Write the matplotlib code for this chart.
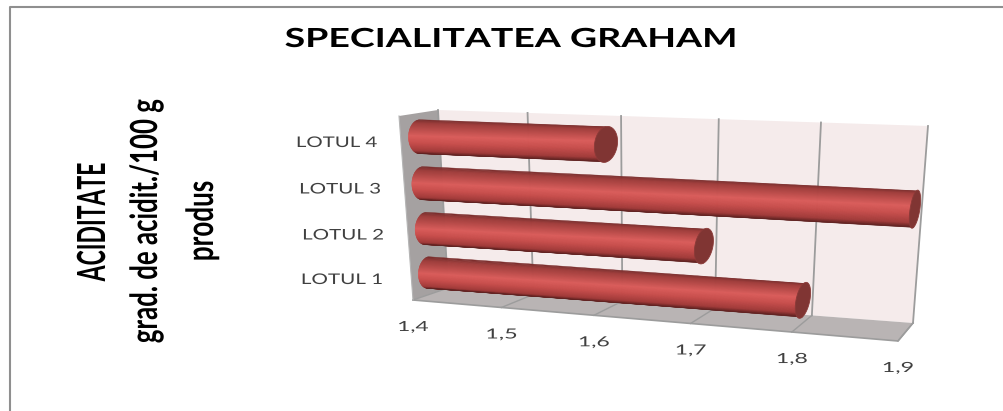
import numpy as np
import matplotlib
matplotlib.use("Agg")
import matplotlib.pyplot as plt
from matplotlib.colors import LinearSegmentedColormap
from matplotlib.font_manager import FontProperties
from matplotlib.patheffects import AbstractPathEffect
from matplotlib.textpath import TextPath
from matplotlib.transforms import Affine2D

# data
categories = ["LOTUL 1", "LOTUL 2", "LOTUL 3", "LOTUL 4"]
values = [1.8, 1.7, 1.9, 1.6]
value_ticks = [1.4, 1.5, 1.6, 1.7, 1.8, 1.9]
tick_labels = ["1,4", "1,5", "1,6", "1,7", "1,8", "1,9"]
title = "SPECIALITATEA GRAHAM"
ylabel_lines = ["ACIDITATE", "grad. de acidit./100 g", "produs"]

W, H = 1004, 411
fig = plt.figure(figsize=(W / 100, H / 100), dpi=100, facecolor="white")
ax = fig.add_axes([0, 0, 1, 1])
ax.set_xlim(0, W)
ax.set_ylim(H, 0)
ax.axis("off")

VMIN, VMAX = 1.4, 1.9
CMAX = 4.0
# chart box calibration (value, category) unit square corners: BL, BR, TR, TL
BACK = np.array([[448, 288], [913, 323], [928, 126], [438, 110]], float)
FRONT = np.array([[413, 300], [898, 341], [914, 136], [399, 116]], float)


def homography(dst):
    src = [(0, 0), (1, 0), (1, 1), (0, 1)]
    A, b = [], []
    for (x, y), (u, v) in zip(src, dst):
        A.append([x, y, 1, 0, 0, 0, -u * x, -u * y])
        A.append([0, 0, 0, x, y, 1, -v * x, -v * y])
        b += [u, v]
    h = np.linalg.solve(np.array(A, float), np.array(b, float))
    return np.append(h, 1).reshape(3, 3)


def _apply(M, x, y):
    w = M[2, 0] * x + M[2, 1] * y + M[2, 2]
    return (M[0, 0] * x + M[0, 1] * y + M[0, 2]) / w, (M[1, 0] * x + M[1, 1] * y + M[1, 2]) / w


HB, HF = homography(BACK), homography(FRONT)


def project(v, c, d=0.0):
    """value, category position, depth (0 back, 1 front) -> canvas pixels"""
    v, c, d = np.broadcast_arrays(np.asarray(v, float), np.asarray(c, float), np.asarray(d, float))
    x = (v - VMIN) / (VMAX - VMIN)
    y = c / CMAX
    pb = _apply(HB, x, y)
    pf = _apply(HF, x, y)
    return pb[0] + (pf[0] - pb[0]) * d, pb[1] + (pf[1] - pb[1]) * d


def poly(vs, cs, ds, **kw):
    x, y = project(vs, cs, ds)
    ax.fill(x, y, **kw)


GRID = "#9c9c9c"
# walls
poly([VMIN, VMAX, VMAX, VMIN], [0, 0, CMAX, CMAX], [0, 0, 0, 0], fc="#f5ebeb", ec="none", zorder=1)
poly([VMIN, VMIN, VMIN, VMIN], [0, CMAX, CMAX, 0], [0, 0, 1, 1], fc="#a5a1a1", ec="none", zorder=1)
poly([VMIN, VMAX, VMAX, VMIN], [0, 0, 0, 0], [0, 0, 1, 1], fc="#b9b4b4", ec="none", zorder=1)
for t in value_ticks:
    x, y = project([t, t], [0, CMAX], [0, 0])
    ax.plot(x, y, color=GRID, lw=1.3, zorder=2)
    x, y = project([t, t], [0, 0], [0, 1])
    ax.plot(x, y, color=GRID, lw=1.0, zorder=2)
x, y = project([VMIN, VMAX, VMAX], [0, 0, 0], [1, 1, 0])
ax.plot(x, y, color=GRID, lw=1.2, zorder=2)
x, y = project([VMIN, VMIN], [CMAX, 0], [1, 1])
ax.plot(x, y, color="#b5b5b5", lw=0.8, zorder=2)

# cylinders
cmap = LinearSegmentedColormap.from_list("tube", [
    (0.0, "#7a2d2c"), (0.08, "#a03d3b"), (0.42, "#da5d5b"), (0.62, "#c94f4d"),
    (0.88, "#a23b3a"), (1.0, "#5f2221")])
R_C, R_D, R_CAP = 0.36, 0.30, 0.38
ts = np.linspace(1, -1, 81)
theta = np.linspace(0, 2 * np.pi, 121)
for i, val in enumerate(values):
    c0 = i + 0.5
    z = 5 + (len(values) - i)
    cs = c0 + R_C * ts
    bulge = 0.5 + R_D * np.sqrt(np.clip(1 - ts ** 2, 0, 1))
    lx, ly = project(VMIN, cs, bulge)
    rx, ry = project(val, cs, 0.5)
    for k in range(len(ts) - 1):
        col = cmap((k + 0.5) / (len(ts) - 1))
        ax.fill([lx[k], rx[k], rx[k + 1], lx[k + 1]], [ly[k], ry[k], ry[k + 1], ly[k + 1]],
                fc=col, ec=col, lw=0.3, zorder=z)
    xe, ye = project(np.full_like(theta, val), c0 + R_C * np.cos(theta), 0.5 + R_CAP * np.sin(theta))
    ax.fill(xe, ye, fc="#803533", ec="#8a3a38", lw=0.6, zorder=z + 0.5)

# frame
FR = "#8f8f8f"
ax.plot([10, 10, W], [H, 7.5, 7.5], color=FR, lw=1.5, zorder=0)


class Stretch(AbstractPathEffect):
    """Scales glyph outlines about an anchor (the reference's text is distorted)."""

    def __init__(self, anchor, sx=1.0, sy=1.0):
        super().__init__()
        self.anchor, self.sx, self.sy = anchor, sx, sy

    def draw_path(self, renderer, gc, tpath, affine, rgbFace=None):
        ax_, ay_ = self.anchor
        extra = Affine2D().translate(-ax_, -ay_).scale(self.sx, self.sy).translate(ax_, ay_)
        renderer.draw_path(gc, tpath, affine + extra, rgbFace)


def fit_text(s, x, base, length, cap, rotation=0, family="Lato", weight="normal", color="black"):
    """Text whose reading length and cap height match given pixel sizes."""
    fp = FontProperties(family=family, weight=weight)
    w = TextPath((0, 0), s, size=100, prop=fp).get_extents().width
    capu = TextPath((0, 0), "H", size=100, prop=fp).get_extents().height
    size = 72 * length / w
    factor = cap / (capu * size / 72)
    sx, sy = (factor, 1.0) if rotation == 90 else (1.0, factor)
    if rotation == 90:
        anchor, xy = (base, H - x), (base, x)
    else:
        anchor, xy = (x, H - base), (x, base)
    ax.text(xy[0], xy[1], s, rotation=rotation, rotation_mode="anchor", ha="center", va="baseline",
            fontsize=size, family=family, fontweight=weight, color=color,
            zorder=12, path_effects=[Stretch(anchor, sx, sy)])


fit_text(title, 510.5, 47, 449, 19, weight="bold")
fit_text(ylabel_lines[0], 222, 105, 118, 28, rotation=90, weight="bold")
fit_text(ylabel_lines[1], 221.5, 157, 243, 27, rotation=90, weight="bold")
fit_text(ylabel_lines[2], 221, 213, 78, 27, rotation=90, weight="bold")

cat_x = [342, 343, 340, 336.5]
cat_base = [284, 239.5, 193.5, 147]
for name, x, b in zip(categories, cat_x, cat_base):
    fit_text(name, x, b, 79, 10.5, color="#404040")

for t, s in zip(value_ticks, tick_labels):
    x, y = project(t, 0, 1)
    fit_text(s, float(x), float(y) + 31, 29, 10, color="#404040")

fig.savefig("out.png", dpi=100)
